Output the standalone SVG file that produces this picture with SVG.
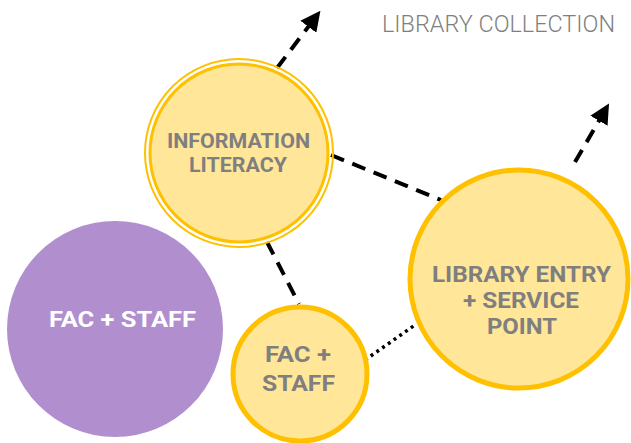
<svg xmlns="http://www.w3.org/2000/svg" width="631" height="443" viewBox="0 0 631 443">
<defs>
<style>
.y{fill:#FFE699;stroke:#FFC000;stroke-width:5}
.t{font-family:Roboto,"Liberation Sans",sans-serif;font-weight:bold;fill:#7F7F7F;text-anchor:middle}
.d{stroke:#000;stroke-width:4;fill:none;stroke-dasharray:14 9}
.o{stroke:#000;stroke-width:3.5;fill:none;stroke-dasharray:3 4}
</style>
<marker id="ah" viewBox="0 0 10 10" refX="8" refY="5" markerWidth="5" markerHeight="5" orient="auto" markerUnits="strokeWidth">
<path d="M0,0 L10,5 L0,10 z" fill="#000"/>
</marker>
</defs>
<text x="498.5" y="32" font-family="Roboto,'Liberation Sans',sans-serif" font-weight="300" font-size="24" fill="#7F7F7F" text-anchor="middle" textLength="233" lengthAdjust="spacingAndGlyphs">LIBRARY COLLECTION</text>
<g id="connectors">
<line class="d" x1="277" y1="68" x2="318" y2="14" marker-end="url(#ah)"/>
<line class="d" x1="331" y1="155" x2="441" y2="200"/>
<line class="d" x1="267" y1="242" x2="299" y2="304"/>
<line class="o" x1="365" y1="360" x2="415" y2="325"/>
<line class="d" x1="575" y1="162" x2="607" y2="107" marker-end="url(#ah)"/>
</g>
<g id="fac-staff-purple">
<circle cx="115" cy="329" r="108" fill="#B18FCF"/>
<text class="t" x="122.5" y="327" font-size="22" style="fill:#fff" textLength="147" lengthAdjust="spacingAndGlyphs">FAC + STAFF</text>
</g>
<g id="information-literacy">
<circle cx="239" cy="153" r="94" fill="none" stroke="#FFC000" stroke-width="2"/>
<circle cx="239" cy="153" r="89" fill="#FFE699" stroke="#FFC000" stroke-width="3"/>
<text class="t" x="238.5" y="148" font-size="21" textLength="143" lengthAdjust="spacingAndGlyphs">INFORMATION</text>
<text class="t" x="238" y="172" font-size="21" textLength="98" lengthAdjust="spacingAndGlyphs">LITERACY</text>
</g>
<g id="fac-staff">
<circle class="y" cx="300" cy="374" r="67"/>
<text class="t" x="298" y="362" font-size="22" textLength="66" lengthAdjust="spacingAndGlyphs">FAC +</text>
<text class="t" x="298.5" y="391" font-size="22" textLength="73" lengthAdjust="spacingAndGlyphs">STAFF</text>
</g>
<g id="library-entry">
<circle class="y" cx="519" cy="279" r="109"/>
<text class="t" x="521.5" y="282" font-size="22" textLength="179" lengthAdjust="spacingAndGlyphs">LIBRARY ENTRY</text>
<text class="t" x="521" y="308" font-size="22" textLength="116" lengthAdjust="spacingAndGlyphs">+ SERVICE</text>
<text class="t" x="522" y="334" font-size="22" textLength="70" lengthAdjust="spacingAndGlyphs">POINT</text>
</g>
</svg>
